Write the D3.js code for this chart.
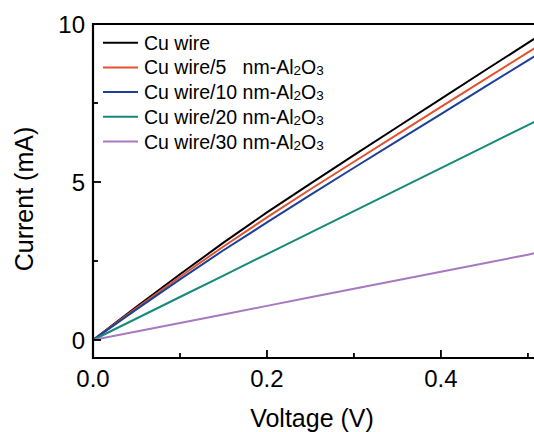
<!DOCTYPE html>
<html>
<head>
<meta charset="utf-8">
<script src="https://cdn.jsdelivr.net/npm/d3@7"></script>
<style>
  body { margin: 0; background: #fff; }
  svg text { font-family: "Liberation Sans", Arial, sans-serif; fill: #000; }
</style>
</head>
<body>
<div id="chart"></div>
<script>
// data
const voltage = [0, 0.05, 0.1, 0.15, 0.2, 0.25, 0.3, 0.35, 0.4, 0.45, 0.5, 0.51];
const cuWire   = [0, 1.05, 2.08, 3.08, 4.04, 4.95, 5.85, 6.74, 7.63, 8.52, 9.40, 9.58];
const cu5nm    = [0, 1.01, 2.00, 2.96, 3.88, 4.77, 5.64, 6.51, 7.38, 8.24, 9.10, 9.27];
const cu10nm   = [0, 0.97, 1.92, 2.84, 3.72, 4.59, 5.45, 6.30, 7.15, 8.00, 8.85, 9.02];
const cu20nm   = [0, 0.68, 1.36, 2.04, 2.72, 3.40, 4.08, 4.76, 5.44, 6.12, 6.80, 6.94];
const cu30nm   = [0, 0.27, 0.54, 0.81, 1.08, 1.35, 1.62, 1.89, 2.16, 2.43, 2.70, 2.76];

const seriesNames = ["Cu wire", "Cu wire/5", "Cu wire/10", "Cu wire/20", "Cu wire/30"];
const seriesValues = [cuWire, cu5nm, cu10nm, cu20nm, cu30nm];
const seriesColors = ["#000000", "#e2522c", "#1c3f98", "#16897a", "#a878c0"];

const xTicks = [0, 0.2, 0.4];
const xMinor = [0.1, 0.3, 0.5];
const yTicks = [0, 5, 10];
const yMinor = [2.5, 7.5];

function createChart() {
    const width = 534;
    const height = 432;
    const left = 93, top = 24, bottom = 358;

    const svg = d3.select('#chart').append('svg')
        .attr('width', width)
        .attr('height', height);

    const x = d3.scaleLinear().domain([0, 0.507]).range([left, width]);
    const y = d3.scaleLinear().domain([-0.57, 10]).range([bottom, top]);

    svg.append('clipPath').attr('id', 'clip')
        .append('rect')
        .attr('x', left).attr('y', top)
        .attr('width', width - left).attr('height', bottom - top);

    const line = d3.line()
        .x(d => x(d[0]))
        .y(d => y(d[1]));

    const lines = svg.append('g').attr('clip-path', 'url(#clip)');
    seriesValues.forEach((vals, i) => {
        lines.append('path')
            .attr('d', line(d3.zip(voltage, vals)))
            .attr('fill', 'none')
            .attr('stroke', seriesColors[i])
            .attr('stroke-width', 2);
    });

    // frame (left, top, bottom; right side is cut off)
    svg.append('path')
        .attr('d', `M${width},${top}H${left}V${bottom}H${width}`)
        .attr('fill', 'none')
        .attr('stroke', '#000')
        .attr('stroke-width', 2.2);

    // inward ticks
    const tickG = svg.append('g').attr('stroke', '#000').attr('stroke-width', 1.8);
    xTicks.filter(d => d > 0).forEach(d => {
        tickG.append('line').attr('x1', x(d)).attr('x2', x(d))
            .attr('y1', bottom).attr('y2', bottom - 8);
    });
    xMinor.forEach(d => {
        tickG.append('line').attr('x1', x(d)).attr('x2', x(d))
            .attr('y1', bottom).attr('y2', bottom - 5);
    });
    yTicks.filter(d => d < 10).forEach(d => {
        tickG.append('line').attr('x1', left).attr('x2', left + 8)
            .attr('y1', y(d)).attr('y2', y(d));
    });
    yMinor.forEach(d => {
        tickG.append('line').attr('x1', left).attr('x2', left + 5)
            .attr('y1', y(d)).attr('y2', y(d));
    });

    // tick labels
    svg.selectAll('.xlab')
        .data(xTicks)
        .enter().append('text')
        .attr('x', d => x(d))
        .attr('y', 387)
        .attr('text-anchor', 'middle')
        .attr('font-size', 24)
        .text(d => d3.format('.1f')(d));

    svg.selectAll('.ylab')
        .data(yTicks)
        .enter().append('text')
        .attr('x', 85)
        .attr('y', d => y(d))
        .attr('dy', '0.36em')
        .attr('text-anchor', 'end')
        .attr('font-size', 24)
        .text(d => d);

    // axis titles
    svg.append('text')
        .attr('x', 312)
        .attr('y', 427)
        .attr('text-anchor', 'middle')
        .attr('font-size', 25)
        .text('Voltage (V)');

    svg.append('text')
        .attr('transform', 'translate(33,199) rotate(-90)')
        .attr('text-anchor', 'middle')
        .attr('font-size', 25)
        .text('Current (mA)');

    // legend
    const legend = svg.append('g');
    seriesNames.forEach((name, i) => {
        const ly = 42.7 + i * 24.7;
        legend.append('line')
            .attr('x1', 103).attr('x2', 138)
            .attr('y1', ly).attr('y2', ly)
            .attr('stroke', seriesColors[i])
            .attr('stroke-width', 2);
        const t = legend.append('text')
            .attr('x', 144)
            .attr('y', ly)
            .attr('dy', '0.36em')
            .attr('font-size', 19.5)
            .style('white-space', 'pre');
        if (i === 0) {
            t.text(name);
        } else {
            const label = name.endsWith('/5') ? name + '\u2007 ' : name + ' ';
            t.append('tspan').text(label + 'nm-Al');
            t.append('tspan').attr('font-size', 13.5).attr('dy', 1).text('2');
            t.append('tspan').attr('dy', -1).text('O');
            t.append('tspan').attr('font-size', 13.5).attr('dy', 1).text('3');
        }
    });
}

createChart();
</script>
</body>
</html>
